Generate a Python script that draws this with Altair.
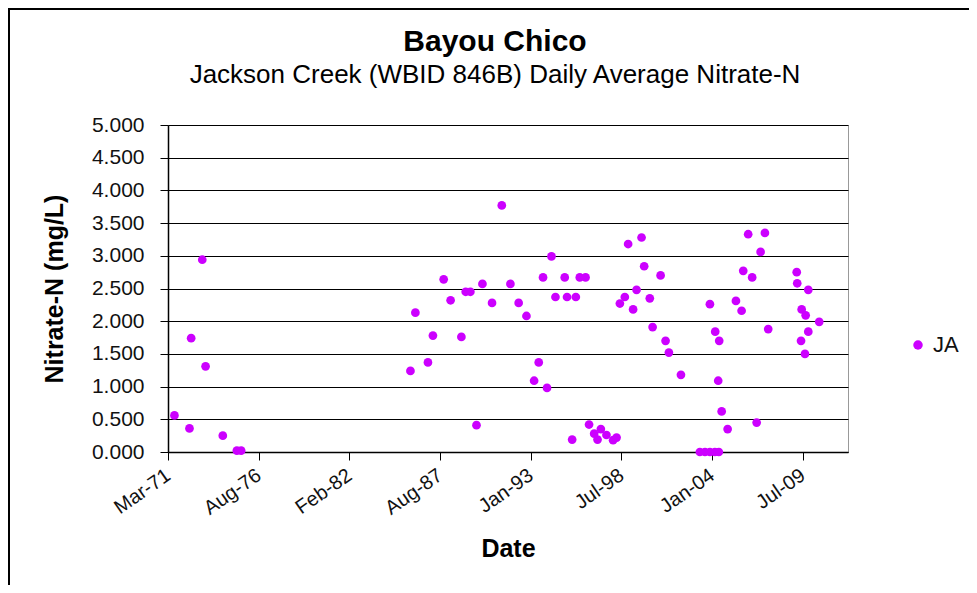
import altair as alt
import pandas as pd

# Sample dates (decimal years) and daily average nitrate-N (mg/L)
years = [1971.57, 1972.48, 1972.58, 1973.25, 1973.45, 1974.49, 1975.34, 1975.60,
         1985.82, 1986.12, 1986.88, 1987.18, 1987.83, 1988.25, 1988.90, 1989.16,
         1989.44, 1989.81, 1990.17, 1990.75, 1991.34, 1991.86, 1992.36, 1992.83,
         1993.29, 1993.57, 1993.83, 1994.07, 1994.34, 1994.58, 1995.14, 1995.28,
         1995.81, 1995.59, 1996.05, 1996.40, 1996.61, 1996.92, 1997.12, 1997.32,
         1997.66, 1998.06, 1998.27, 1998.47, 1998.77, 1998.97, 1999.27, 1999.48,
         1999.78, 1999.94, 2000.28, 2000.45, 2000.93, 2001.23, 2001.43, 2002.16,
         2003.30, 2003.61, 2003.91, 2004.21, 2004.45, 2003.91, 2004.23, 2004.47,
         2004.41, 2004.62, 2004.98, 2005.48, 2005.82, 2005.92, 2006.22, 2006.46,
         2006.73, 2006.97, 2007.23, 2007.43, 2009.15, 2009.18, 2009.45, 2009.69,
         2009.85, 2009.41, 2009.85, 2009.65, 2010.51]
nitrate = [0.56, 0.36, 1.74, 2.94, 1.31, 0.25, 0.02, 0.02,
           1.24, 2.13, 1.37, 1.78, 2.64, 2.32, 1.76, 2.45,
           2.45, 0.41, 2.57, 2.28, 3.77, 2.57, 2.28, 2.08,
           1.09, 1.37, 2.67, 0.98, 2.99, 2.37, 2.67, 2.37,
           2.37, 0.19, 2.67, 2.67, 0.42, 0.28, 0.19, 0.35,
           0.26, 0.18, 0.22, 2.27, 2.37, 3.18, 2.18, 2.48,
           3.28, 2.84, 2.35, 1.91, 2.70, 1.70, 1.52, 1.18,
           0.00, 0.00, 0.00, 0.00, 0.00, 2.26, 1.84, 1.70,
           1.09, 0.62, 0.35, 2.31, 2.16, 2.77, 3.33, 2.67,
           0.45, 3.06, 3.35, 1.88, 2.75, 2.58, 2.18, 2.09,
           2.48, 1.70, 1.84, 1.50, 1.99]
series_name = "JA"
y_ticks = [0, 0.5, 1, 1.5, 2, 2.5, 3, 3.5, 4, 4.5, 5]
# Excel axis: min serial 26000 (8 Mar 1971), major unit 2000 days
x_tick_dates = ["1971-03-08", "1976-08-28", "1982-02-18", "1987-08-11",
                "1993-01-31", "1998-07-24", "2004-01-14", "2009-07-06"]
x_domain = ["1971-03-08", "2012-04-01"]

def to_date(y):
    yr = int(y)
    start = pd.Timestamp(year=yr, month=1, day=1)
    return start + pd.Timedelta(days=round((y - yr) * 365.25))

df = pd.DataFrame({
    "date": [to_date(v) for v in years],
    "value": nitrate,
    "site": [series_name] * len(nitrate),
})

def dt(s):
    t = pd.Timestamp(s)
    return alt.DateTime(year=t.year, month=t.month, date=t.day)

FONT = "Liberation Sans"

points = alt.Chart(df).mark_circle(size=76, opacity=1).encode(
    x=alt.X("date:T",
            scale=alt.Scale(domain=[dt(d) for d in x_domain], nice=False),
            axis=alt.Axis(values=[dt(d) for d in x_tick_dates], format="%b-%y",
                          labelAngle=-35, labelAlign="right", labelBaseline="middle",
                          labelPadding=13, labelFontSize=20, labelColor="#111",
                          tickSize=8, tickColor="black", domainColor="black",
                          domainWidth=1.5, grid=False, title="Date",
                          titleFontSize=25, titleFontWeight="bold",
                          titlePadding=18, titleColor="black", labelFlush=False)),
    y=alt.Y("value:Q",
            scale=alt.Scale(domain=[0, 5], nice=False),
            axis=alt.Axis(values=y_ticks, format=".3f", labelFontSize=21,
                          labelColor="#111", labelPadding=16, tickSize=8,
                          tickColor="black", domainColor="black", domainWidth=1.5,
                          gridColor="black", gridWidth=1.2,
                          title="Nitrate-N (mg/L)", titleFontSize=25,
                          titleFontWeight="bold", titlePadding=24,
                          titleColor="black")),
    color=alt.Color("site:N",
                    scale=alt.Scale(domain=[series_name], range=["#CC00FF"]),
                    legend=alt.Legend(title=None, orient="none", legendX=739,
                                      legendY=209, labelFontSize=22,
                                      labelFont=FONT, symbolSize=90,
                                      symbolType="circle", labelColor="#111",
                                      labelOffset=4)),
)

frame = alt.Chart(df).mark_rect(fillOpacity=0, stroke="black", strokeWidth=1.5).encode(
    x=alt.value(-159), x2=alt.value(810), y=alt.value(-116), y2=alt.value(480)
)

chart = alt.layer(frame, points).properties(
    width=680, height=327,
    autosize="none",
    padding={"left": 160, "top": 117, "right": 121, "bottom": 133},
    title=alt.TitleParams(
        text="Bayou Chico",
        subtitle="Jackson Creek (WBID 846B) Daily Average Nitrate-N",
        anchor="middle", frame="group", dx=-13, dy=120, offset=40,
        fontSize=30, fontWeight="bold", font=FONT, color="black",
        subtitleFontSize=26, subtitleFont=FONT, subtitleColor="black",
        subtitlePadding=5,
    ),
).configure(
    font=FONT,
).configure_view(
    stroke="#999", strokeWidth=1,
).configure_axis(
    labelFont=FONT, titleFont=FONT,
)

chart.save("out.html", embed_options={"renderer": "svg", "actions": False})
